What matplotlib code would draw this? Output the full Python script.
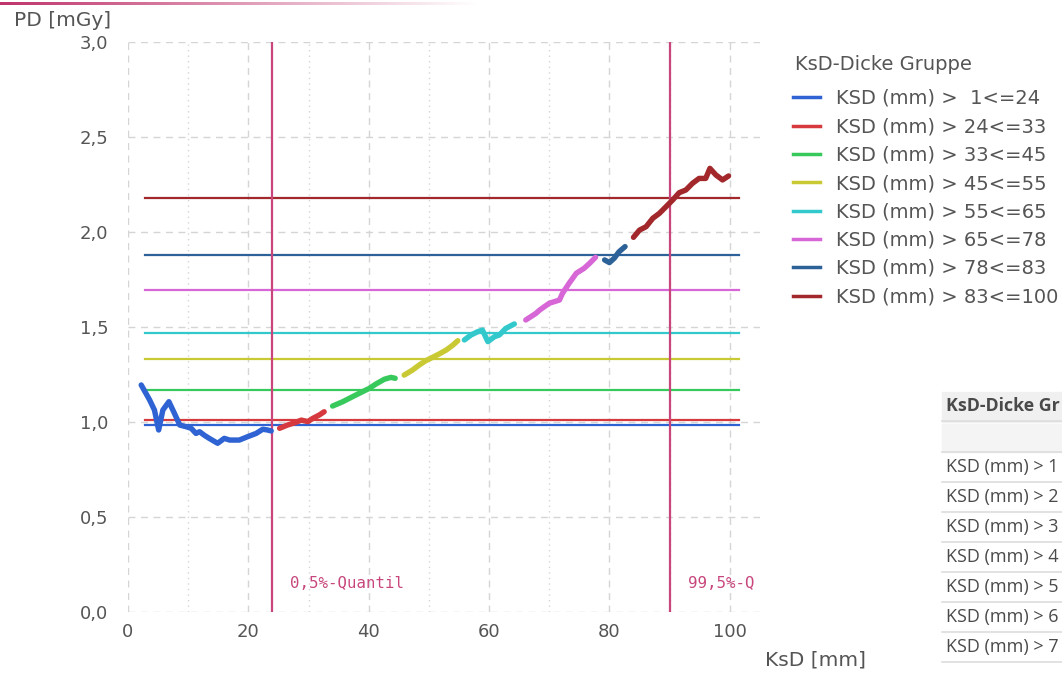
import numpy as np
import matplotlib.pyplot as plt
from matplotlib.patches import Rectangle
from matplotlib.lines import Line2D

# group labels / colours
groups = ["KSD (mm) >  1<=24", "KSD (mm) > 24<=33", "KSD (mm) > 33<=45",
          "KSD (mm) > 45<=55", "KSD (mm) > 55<=65", "KSD (mm) > 65<=78",
          "KSD (mm) > 78<=83", "KSD (mm) > 83<=100"]
# right-hand table is cut off by the picture edge, only this much shows
table_head = "KsD-Dicke Gr"
table_rows = ["KSD (mm) > 1", "KSD (mm) > 2", "KSD (mm) > 3", "KSD (mm) > 4",
              "KSD (mm) > 5", "KSD (mm) > 6", "KSD (mm) > 7"]
colors = ["#2f63d3", "#d63a3e", "#38c95c", "#c9c934", "#33c9cc", "#d766d6", "#2d6299", "#a2282c"]

# curve per group (KsD mm, PD mGy)
x_g1 = [2.2, 3.6, 4.4, 5.1, 5.8, 6.8, 7.7, 8.6, 9.7, 10.5, 11.3, 11.9, 12.7, 13.5, 14.9, 16.0, 16.9, 18.5, 19.9, 21.3, 22.4, 23.2, 23.8]
y_g1 = [1.195, 1.116, 1.063, 0.958, 1.063, 1.107, 1.047, 0.984, 0.975, 0.967, 0.94, 0.949, 0.93, 0.914, 0.888, 0.914, 0.905, 0.905, 0.923, 0.94, 0.962, 0.958, 0.953]
x_g2 = [25.2, 26.5, 27.7, 28.8, 29.9, 30.7, 31.8, 32.6]
y_g2 = [0.967, 0.984, 0.996, 1.01, 1.002, 1.019, 1.037, 1.054]
x_g3 = [34.0, 35.7, 37.3, 39.0, 40.1, 41.2, 42.6, 43.7, 44.4]
y_g3 = [1.084, 1.107, 1.133, 1.16, 1.177, 1.2, 1.225, 1.235, 1.23]
x_g4 = [45.9, 47.3, 48.4, 49.5, 50.6, 51.7, 52.9, 54.0, 54.8]
y_g4 = [1.247, 1.274, 1.3, 1.323, 1.34, 1.358, 1.379, 1.405, 1.428]
x_g5 = [55.9, 57.0, 58.1, 58.9, 59.8, 60.9, 61.7, 62.8, 64.2]
y_g5 = [1.432, 1.458, 1.475, 1.484, 1.423, 1.449, 1.458, 1.493, 1.516]
x_g6 = [66.1, 67.8, 68.4, 70.0, 71.7, 72.2, 73.3, 74.5, 75.8, 76.7, 77.7]
y_g6 = [1.537, 1.572, 1.589, 1.625, 1.642, 1.677, 1.73, 1.783, 1.809, 1.835, 1.867]
x_g7 = [79.2, 80.0, 80.8, 81.6, 82.6]
y_g7 = [1.853, 1.839, 1.862, 1.896, 1.923]
x_g8 = [84.0, 85.0, 86.1, 87.2, 88.3, 89.4, 90.5, 91.6, 92.7, 93.8, 94.9, 96.0, 96.7, 97.7, 98.8, 99.8]
y_g8 = [1.972, 2.01, 2.028, 2.072, 2.098, 2.133, 2.168, 2.207, 2.221, 2.256, 2.282, 2.282, 2.335, 2.3, 2.274, 2.295]

xs = [x_g1, x_g2, x_g3, x_g4, x_g5, x_g6, x_g7, x_g8]
ys = [y_g1, y_g2, y_g3, y_g4, y_g5, y_g6, y_g7, y_g8]

# group mean reference lines
means = [0.984, 1.01, 1.168, 1.332, 1.468, 1.695, 1.879, 2.179]
mean_from, mean_to = 2.9, 101.5

q_low, q_high = 24.0, 90.0

W, H = 1062, 673
def fx(p): return p / W
def fy(p): return 1 - p / H

fig = plt.figure(figsize=(10.62, 6.73), dpi=100)
ax = fig.add_axes([0.1205, 0.0906, 0.595, 0.847])

tc = "#555555"
qc = "#c8467c"

ax.set_xlim(0, 105)
ax.set_ylim(0, 3)
ax.set_xticks(np.arange(0, 101, 20))
ax.set_xticks(np.arange(10, 101, 20), minor=True)
ax.set_yticks(np.arange(0, 3.01, 0.5))
ax.set_yticklabels([f"{v:.1f}".replace(".", ",") for v in np.arange(0, 3.01, 0.5)])
ax.grid(True, which="major", color="#d5d5d5", linestyle=(0, (5, 4)), linewidth=1)
ax.grid(True, which="minor", axis="x", color="#d5d5d5", linestyle=(0, (1, 3)), linewidth=1)
ax.set_axisbelow(True)
for s in ax.spines.values():
    s.set_visible(False)
ax.tick_params(which="both", length=0, labelsize=13, labelcolor=tc)
ax.tick_params(axis="y", pad=14)
ax.tick_params(axis="x", pad=8)

for m, c in zip(means, colors):
    ax.plot([mean_from, mean_to], [m, m], color=c, lw=1.6, zorder=2)

ax.axvline(q_low, color=qc, lw=1.6, zorder=3)
ax.axvline(q_high, color=qc, lw=1.6, zorder=3)
ax.text(q_low + 3, 0.11, "0,5%-Quantil", color=qc, fontsize=11.3,
        family="DejaVu Sans Mono", va="bottom", clip_on=True)
ax.text(q_high + 3, 0.11, "99,5%-Q", color=qc, fontsize=11.3,
        family="DejaVu Sans Mono", va="bottom", clip_on=True)

for x, y, c in zip(xs, ys, colors):
    ax.plot(x, y, color=c, lw=3.9, solid_capstyle="round", solid_joinstyle="round", zorder=4)

fig.text(fx(795), fy(64), "KsD-Dicke Gruppe", fontsize=14, color=tc, va="center")
handles = [Line2D([0], [0], color=c, lw=2.5) for c in colors]
leg = fig.legend(handles, groups, loc="upper left", bbox_to_anchor=(fx(793), fy(89)),
                 frameon=False, fontsize=14, handlelength=1.4, handletextpad=0.82,
                 labelspacing=0.48, borderpad=0, borderaxespad=0)
for t in leg.get_texts():
    t.set_color(tc)

fig.text(fx(14), fy(20), "PD [mGy]", fontsize=14.5, color=tc, va="center")
fig.text(fx(765), fy(660), "KsD [mm]", fontsize=14.5, color=tc, va="center")

# top gradient bar
bar = fig.add_axes([0, fy(5), 0.45, 3 / H])
grad = np.ones((1, 256, 4))
grad[0, :, :3] = [0.75, 0.2, 0.42]
grad[0, :, 3] = np.linspace(1, 0, 256)
bar.imshow(grad, aspect="auto")
bar.axis("off")

# partly visible table at the right
fig.patches.append(Rectangle((fx(942), fy(422)), fx(200), 30 / H, transform=fig.transFigure,
                             color="#f0f0f0", zorder=0))
fig.patches.append(Rectangle((fx(942), fy(452)), fx(200), 28 / H, transform=fig.transFigure,
                             color="#f4f4f4", zorder=0))
fig.text(fx(946), fy(406), table_head, fontsize=12.8, weight="bold",
         color="#4a4a4a", family="Open Sans", va="center")
for i, r in enumerate(table_rows):
    yc = 467 + i * 30
    fig.text(fx(946), fy(yc), r, fontsize=13, color="#4a4a4a", family="Open Sans", va="center")
for i in range(8):
    yl = 452 + i * 30
    fig.add_artist(Line2D([fx(942), 1], [fy(yl), fy(yl)], color="#dddddd", lw=1.2,
                          transform=fig.transFigure))
fig.add_artist(Line2D([fx(942), 1], [fy(421), fy(421)], color="#dddddd", lw=1.2,
                      transform=fig.transFigure))

fig.savefig("out.png", dpi=100)
